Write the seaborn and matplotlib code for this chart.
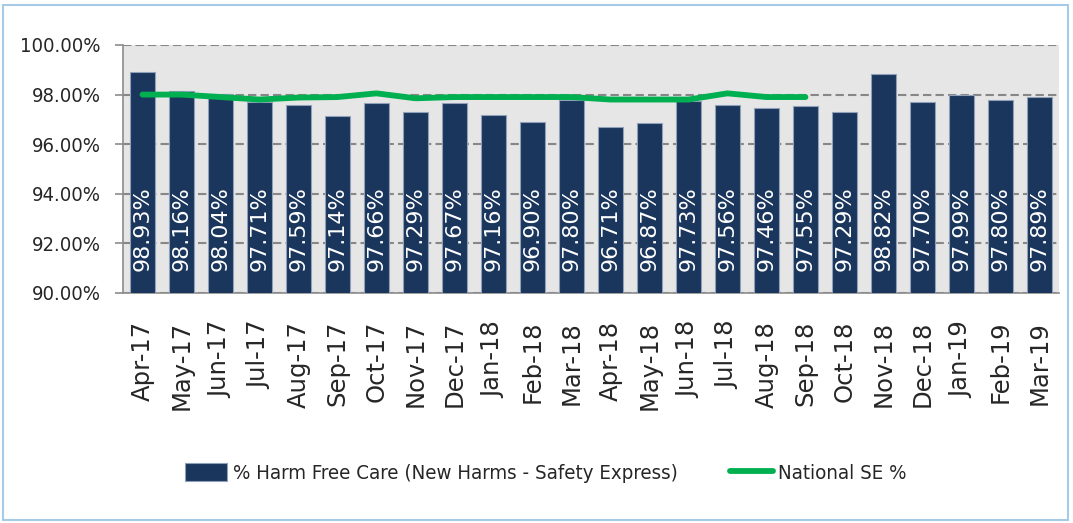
import numpy as np
import pandas as pd
import matplotlib
matplotlib.use("Agg")
import matplotlib.pyplot as plt
import seaborn as sns
from matplotlib.patches import Rectangle

months = ["Apr-17", "May-17", "Jun-17", "Jul-17", "Aug-17", "Sep-17", "Oct-17", "Nov-17",
          "Dec-17", "Jan-18", "Feb-18", "Mar-18", "Apr-18", "May-18", "Jun-18", "Jul-18",
          "Aug-18", "Sep-18", "Oct-18", "Nov-18", "Dec-18", "Jan-19", "Feb-19", "Mar-19"]
harm_free = [98.93, 98.16, 98.04, 97.71, 97.59, 97.14, 97.66, 97.29, 97.67, 97.16, 96.90, 97.80,
             96.71, 96.87, 97.73, 97.56, 97.46, 97.55, 97.29, 98.82, 97.70, 97.99, 97.80, 97.89]
# national series only runs to Sep-18
national_se = [98.0, 98.0, 97.9, 97.8, 97.88, 97.9, 98.05, 97.85, 97.9, 97.9, 97.9, 97.9,
               97.8, 97.8, 97.8, 98.05, 97.9, 97.9]
y_ticks = [90, 92, 94, 96, 98, 100]

NAVY = "#1a365d"
GREEN = "#00b050"
bar_label = "% Harm Free Care (New Harms - Safety Express)"
line_label = "National SE %"

df = pd.DataFrame({"month": months, "harm_free": harm_free})

sns.set_style("white")
plt.rcParams["font.family"] = ["DejaVu Sans"]

fig = plt.figure(figsize=(10.73, 5.23), dpi=100)
ax = fig.add_axes([0.1146, 0.4398, 0.8723, 0.4742])
ax.set_facecolor("#e6e6e6")

sns.barplot(data=df, x="month", y="harm_free", color=NAVY, width=0.65, saturation=1,
            edgecolor="#8fa0b8", linewidth=0.8, label=bar_label, ax=ax, zorder=3)
sns.lineplot(x=np.arange(len(national_se)), y=national_se, color=GREEN, linewidth=4.2,
             solid_capstyle="round", label=line_label, ax=ax, zorder=4, legend=False)
if ax.get_legend() is not None:
    ax.get_legend().remove()

# value labels inside bars, anchored near the base
for patch, val in zip(ax.patches, harm_free):
    ax.text(patch.get_x() + patch.get_width() / 2, 0.088, f"{val:.2f}%",
            transform=ax.get_xaxis_transform(), rotation=90, ha="center", va="bottom",
            color="white", fontsize=16, zorder=5)

ax.set_ylim(90, 100)
ax.set_xlim(-0.5, len(months) - 0.5)
ax.set_yticks(y_ticks)
ax.set_yticklabels([f"{v:.2f}%" for v in y_ticks], fontsize=14.5, fontstretch="condensed")
ax.yaxis.grid(True, linestyle=(0, (4, 2)), color="#878787", linewidth=1.5, zorder=1)
ax.set_axisbelow(True)

ax.set_xticks(np.arange(len(months)))
ax.set_xticklabels(months, rotation=90, fontsize=17.5)
ax.set_xticks(np.arange(len(months) + 1) - 0.5, minor=True)
ax.tick_params(axis="x", which="major", length=0, pad=20)
ax.tick_params(axis="x", which="minor", length=8, width=1.2, color="#8c8c8c")
ax.tick_params(axis="y", length=6, width=1.2, color="#8c8c8c", pad=10, left=True)
ax.set_xlabel("")
ax.set_ylabel("")

for side in ["top", "right"]:
    ax.spines[side].set_visible(False)
for side in ["left", "bottom"]:
    ax.spines[side].set_color("#8c8c8c")
    ax.spines[side].set_linewidth(1.2)

handles, labels = ax.get_legend_handles_labels()
order = [labels.index(bar_label), labels.index(line_label)]
fig.legend([handles[i] for i in order], [labels[i] for i in order], loc="center left",
           bbox_to_anchor=(0.172, 0.0956), ncol=2, frameon=False,
           prop={"size": 14.7, "stretch": "condensed"}, handlelength=2.1,
           handleheight=0.95, handletextpad=0.25, columnspacing=2.6, borderpad=0, borderaxespad=0)

# light blue chart-area border
fig.patches.append(Rectangle((3 / 1073, 3 / 523), 1065 / 1073, 515 / 523, transform=fig.transFigure,
                             fill=False, edgecolor="#a6cbe8", linewidth=1.5))

fig.savefig("out.png", dpi=100)
plt.close(fig)
